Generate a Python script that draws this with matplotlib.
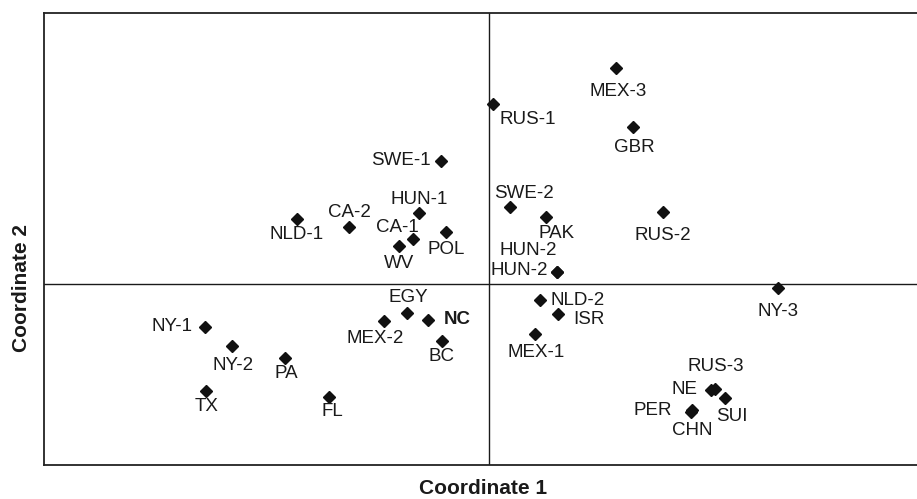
import matplotlib
matplotlib.use("Agg")
import matplotlib.pyplot as plt

plt.rcParams['font.family'] = ['Liberation Sans', 'DejaVu Sans']

# ---- data ----
labels = ["SWE-1", "HUN-1", "NLD-1", "CA-2", "CA-1", "POL", "WV",
          "MEX-3", "RUS-1", "GBR", "SWE-2", "PAK", "RUS-2", "HUN-2", "HUN-2",
          "NLD-2", "ISR", "MEX-1", "NY-3", "RUS-3", "NE", "SUI", "PER", "CHN",
          "NY-1", "NY-2", "PA", "TX", "FL", "MEX-2", "EGY", "NC", "BC"]
coord1 = [-0.478, -0.692, -1.918, -1.395, -0.758, -0.425, -0.892,
          1.272, 0.042, 1.445, 0.212, 0.578, 1.742, 0.688, 0.688,
          0.515, 0.692, 0.468, 2.892, 2.262, 2.228, 2.362, 2.022, 2.038,
          -2.838, -2.568, -2.032, -2.822, -1.592, -1.045, -0.812, -0.608, -0.468]
coord2 = [1.233, 0.716, 0.650, 0.576, 0.456, 0.520, 0.383,
          2.156, 1.800, 1.566, 0.773, 0.670, 0.720, 0.123, 0.123,
          -0.160, -0.297, -0.497, -0.040, -1.044, -1.057, -1.134, -1.274, -1.257,
          -0.427, -0.620, -0.734, -1.067, -1.124, -0.364, -0.284, -0.354, -0.570]

# ---- label placement (offset in pixels, horizontal alignment) ----
placement = [(-10, 0, 'right'), (0, 13, 'center'), (0, -15, 'center'), (0, 14, 'center'),
             (-15, 11, 'center'), (0, -17, 'center'), (0, -18, 'center'),
             (2, -23, 'center'), (7, -15, 'left'), (1, -20, 'center'), (14, 13, 'center'),
             (10, -16, 'center'), (0, -23, 'center'), (-29, 21, 'center'), (-9, 1, 'right'),
             (10, 0, 'left'), (16, -6, 'left'), (1, -19, 'center'), (0, -23, 'center'),
             (1, 22, 'center'), (-14, 0, 'right'), (7, -19, 'center'), (-19, 1, 'right'),
             (0, -21, 'center'),
             (-12, 0, 'right'), (1, -19, 'center'), (1, -16, 'center'), (0, -16, 'center'),
             (3, -15, 'center'), (-9, -18, 'center'), (1, 15, 'center'), (16, 0, 'left'),
             (0, -15, 'center')]

fig = plt.figure(figsize=(9.17, 4.99), dpi=100)
ax = fig.add_axes([44/917, 1-465/499, 888/917, 452/499])
ax.set_xlim(-4.445, 4.435)
ax.set_ylim(-1.807, 2.71)

ax.axhline(0, color='#1a1a1a', lw=1.0, zorder=1)
ax.axvline(0, color='#1a1a1a', lw=1.0, zorder=1)

ax.plot(coord1, coord2, linestyle='none', marker='D', markersize=5.7,
        color='#111111', zorder=3)

for name, x, y, (dx, dy, ha) in zip(labels, coord1, coord2, placement):
    ax.annotate(name, (x, y), xytext=(dx, dy), textcoords='offset pixels',
                ha=ha, va='center', fontsize=13.5, color='#1a1a1a',
                fontweight='bold' if name == 'NC' else 'normal')

ax.set_xticks([])
ax.set_yticks([])
for s in ax.spines.values():
    s.set_linewidth(1.3)
    s.set_color('#222222')

fig.text(483/917, 1-489/499, 'Coordinate 1', ha='center', va='center',
         fontsize=15, fontweight='bold', color='#1a1a1a')
fig.text(22/917, 1-288/499, 'Coordinate 2', ha='center', va='center',
         rotation=90, fontsize=15, fontweight='bold', color='#1a1a1a')

fig.savefig('out.png', dpi=100)
